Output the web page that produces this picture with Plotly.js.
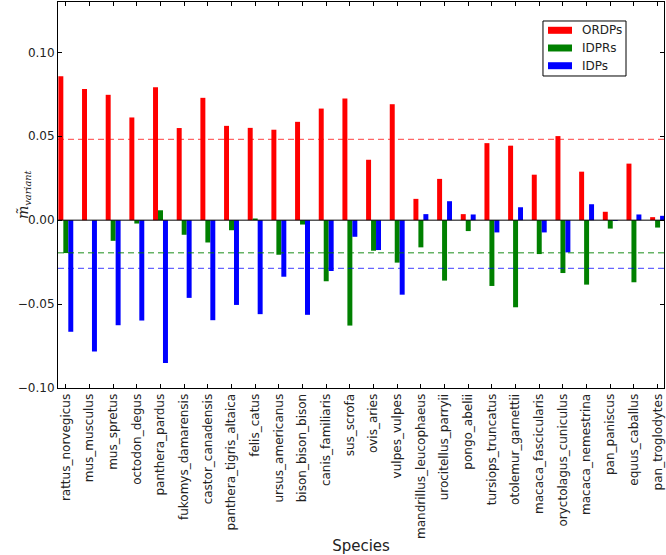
<!DOCTYPE html>
<html>
<head>
<meta charset="utf-8">
<script src="https://cdn.plot.ly/plotly-3.0.1.min.js"></script>
<style>html,body{margin:0;padding:0;background:#fff}#chart{width:666px;height:555px}</style>
</head>
<body>
<div id="chart"></div>
<script>
const species = ["rattus_norvegicus","mus_musculus","mus_spretus","octodon_degus","panthera_pardus","fukomys_damarensis","castor_canadensis","panthera_tigris_altaica","felis_catus","ursus_americanus","bison_bison_bison","canis_familiaris","sus_scrofa","ovis_aries","vulpes_vulpes","mandrillus_leucophaeus","urocitellus_parryii","pongo_abelii","tursiops_truncatus","otolemur_garnettii","macaca_fascicularis","oryctolagus_cuniculus","macaca_nemestrina","pan_paniscus","equus_caballus","pan_troglodytes"];
const ordps = [0.0857,0.0782,0.0747,0.0612,0.0792,0.0549,0.0729,0.0562,0.0550,0.0539,0.0586,0.0665,0.0725,0.0360,0.0691,0.0127,0.0246,0.0036,0.0459,0.0444,0.0271,0.0501,0.0289,0.0050,0.0337,0.0018];
const idprs = [-0.0196,0.0000,-0.0123,-0.0020,0.0059,-0.0087,-0.0133,-0.0060,0.0010,-0.0206,-0.0026,-0.0364,-0.0628,-0.0182,-0.0253,-0.0162,-0.0360,-0.0065,-0.0392,-0.0519,-0.0202,-0.0315,-0.0384,-0.0050,-0.0370,-0.0044];
const idps = [-0.0665,-0.0782,-0.0626,-0.0598,-0.0851,-0.0463,-0.0596,-0.0505,-0.0560,-0.0337,-0.0564,-0.0303,-0.0099,-0.0178,-0.0444,0.0036,0.0113,0.0034,-0.0073,0.0077,-0.0073,-0.0192,0.0095,-0.0005,0.0034,0.0026];
const seriesNames = ["ORDPs","IDPRs","IDPs"];
const meanLines = [0.0481,-0.0194,-0.0287];
const yTicks = [-0.10,-0.05,0.00,0.05,0.10];

const colors = ["#ff0000","#008000","#0000ff"];
const dashColors = ["rgba(255,0,0,0.6)","rgba(0,128,0,0.6)","rgba(0,0,255,0.6)"];
const vals = [ordps, idprs, idps];

const traces = vals.map((v,i)=>({
  type:"bar", x:species, y:v, name:seriesNames[i], showlegend:false,
  marker:{color:colors[i], line:{width:0}}
}));

const shapes = meanLines.map((m,i)=>({
  type:"line", xref:"paper", yref:"y", x0:0, x1:1, y0:m, y1:m,
  line:{color:dashColors[i], width:1.3, dash:"6px,4px"}, layer:"above"
}));
shapes.push({type:"line", xref:"paper", yref:"y", x0:0, x1:1, y0:0, y1:0, line:{color:"#000", width:1}, layer:"above"});

// custom matplotlib-style legend (paper coordinates)
shapes.push({type:"rect", xref:"paper", yref:"paper", x0:0.8003, x1:0.9373, y0:0.8083, y1:0.9508,
  fillcolor:"#fff", line:{color:"#000", width:1}, layer:"above"});
const legRows = [[0.9176,0.9358,0.9267],[0.8718,0.8899,0.8808],[0.8259,0.8440,0.8350]];
const annotations = [];
seriesNames.forEach((n,i)=>{
  shapes.push({type:"rect", xref:"paper", yref:"paper", x0:0.8086, x1:0.8482, y0:legRows[i][0], y1:legRows[i][1],
    fillcolor:colors[i], line:{width:0}, layer:"above"});
  annotations.push({xref:"paper", yref:"paper", x:0.861, y:legRows[i][2], xanchor:"left", yanchor:"middle",
    text:n, showarrow:false, font:{size:12, color:"#222", family:"DejaVu Sans"}});
});
annotations.push({xref:"paper", yref:"paper", x:0, xshift:-45, y:0.5, textangle:-90, showarrow:false,
  text:"<i>m̃</i><sub><i>variant</i></sub>", font:{size:14, family:"DejaVu Serif", color:"#222"}});

const layout = {
  width:666, height:555,
  margin:{l:58, r:2, t:2, b:167},
  paper_bgcolor:"#fff", plot_bgcolor:"#fff",
  barmode:"group", bargap:0.37, bargroupgap:0,
  font:{family:"DejaVu Sans", color:"#222"},
  showlegend:false,
  xaxis:{
    type:"category", range:[-0.33,25.27],
    showline:true, linecolor:"#000", linewidth:1, mirror:"ticks",
    ticks:"inside", ticklen:4, tickcolor:"#000",
    tickangle:-90, tickfont:{size:12, color:"#222"},
    showgrid:false, zeroline:false,
    title:{text:"Species", font:{size:15, color:"#222"}, standoff:6}
  },
  yaxis:{
    range:[-0.10,0.13],
    tickvals:yTicks, tickformat:".2f",
    showline:true, linecolor:"#000", linewidth:1, mirror:"ticks",
    ticks:"inside", ticklen:4, tickcolor:"#000",
    tickfont:{size:12, color:"#222"},
    showgrid:false, zeroline:false
  },
  shapes:shapes,
  annotations:annotations
};
Plotly.newPlot("chart", traces, layout, {displayModeBar:false, staticPlot:true});
</script>
</body>
</html>
